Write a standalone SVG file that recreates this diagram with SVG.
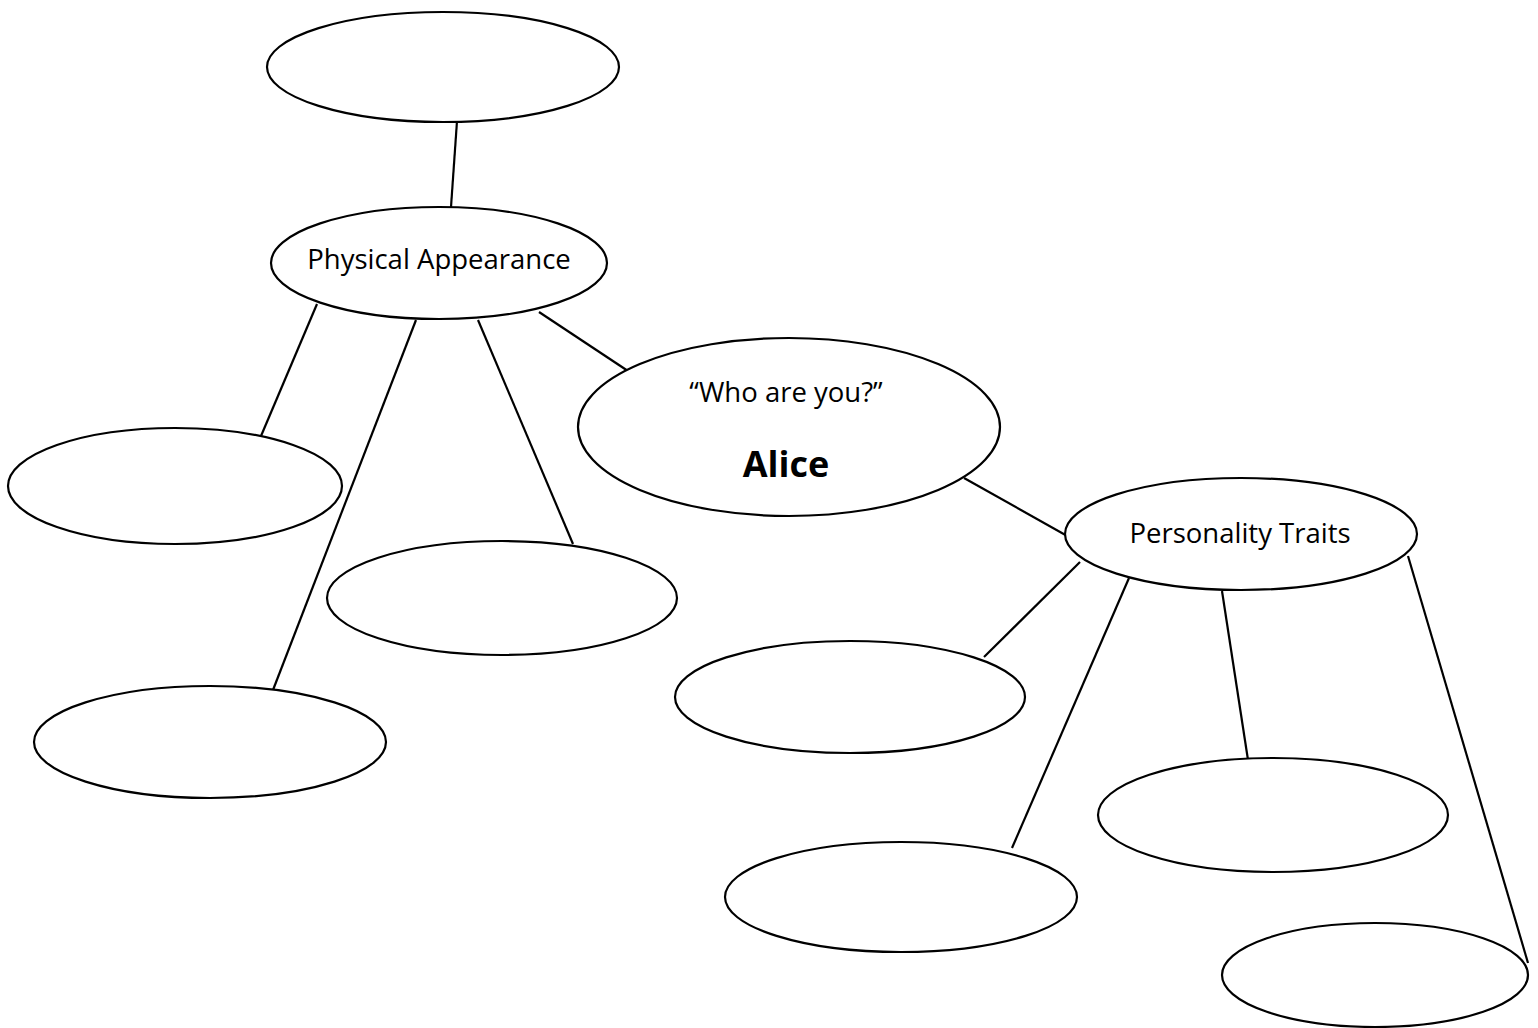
<svg xmlns="http://www.w3.org/2000/svg" width="1538" height="1028" viewBox="0 0 1538 1028">
<style>
.n{fill:#fff;stroke:#000;stroke-width:2.2}
.c line{stroke:#000;stroke-width:2.2}
.t{font-family:"Open Sans","Liberation Sans",sans-serif;font-size:27.5px;fill:#000;text-anchor:middle}
.b{font-family:"Open Sans","Liberation Sans",sans-serif;font-size:36px;font-weight:bold;fill:#000;text-anchor:middle}
</style>
<rect width="1538" height="1028" fill="#fff"/>
<g id="connectors" class="c">
<line x1="457" y1="121" x2="451" y2="207"/>
<line x1="317" y1="304" x2="261" y2="436"/>
<line x1="416" y1="320" x2="273" y2="690"/>
<line x1="478" y1="320" x2="573" y2="544"/>
<line x1="539" y1="312" x2="628" y2="371"/>
<line x1="964" y1="478" x2="1069" y2="537"/>
<line x1="1080" y1="562" x2="984" y2="657"/>
<line x1="1129" y1="578" x2="1012" y2="848"/>
<line x1="1222" y1="591" x2="1248" y2="760"/>
<line x1="1408" y1="556" x2="1528" y2="963"/>
</g>
<g id="top"><ellipse class="n" cx="443" cy="67" rx="176" ry="55"/></g>
<g id="physical"><ellipse class="n" cx="439" cy="263" rx="168" ry="56"/><text class="t" x="439" y="269">Physical Appearance</text></g>
<g id="pa1"><ellipse class="n" cx="175" cy="486" rx="167" ry="58"/></g>
<g id="pa2"><ellipse class="n" cx="502" cy="598" rx="175" ry="57"/></g>
<g id="pa3"><ellipse class="n" cx="210" cy="742" rx="176" ry="56"/></g>
<g id="alice"><ellipse class="n" cx="789" cy="427" rx="211" ry="89"/><text class="t" x="786" y="402">“Who are you?”</text><text class="b" x="786" y="477">Alice</text></g>
<g id="personality"><ellipse class="n" cx="1241" cy="534" rx="176" ry="56"/><text class="t" x="1240" y="543">Personality Traits</text></g>
<g id="pt1"><ellipse class="n" cx="850" cy="697" rx="175" ry="56"/></g>
<g id="pt2"><ellipse class="n" cx="1273" cy="815" rx="175" ry="57"/></g>
<g id="pt3"><ellipse class="n" cx="901" cy="897" rx="176" ry="55"/></g>
<g id="pt4"><ellipse class="n" cx="1375" cy="975" rx="153" ry="52"/></g>
</svg>
